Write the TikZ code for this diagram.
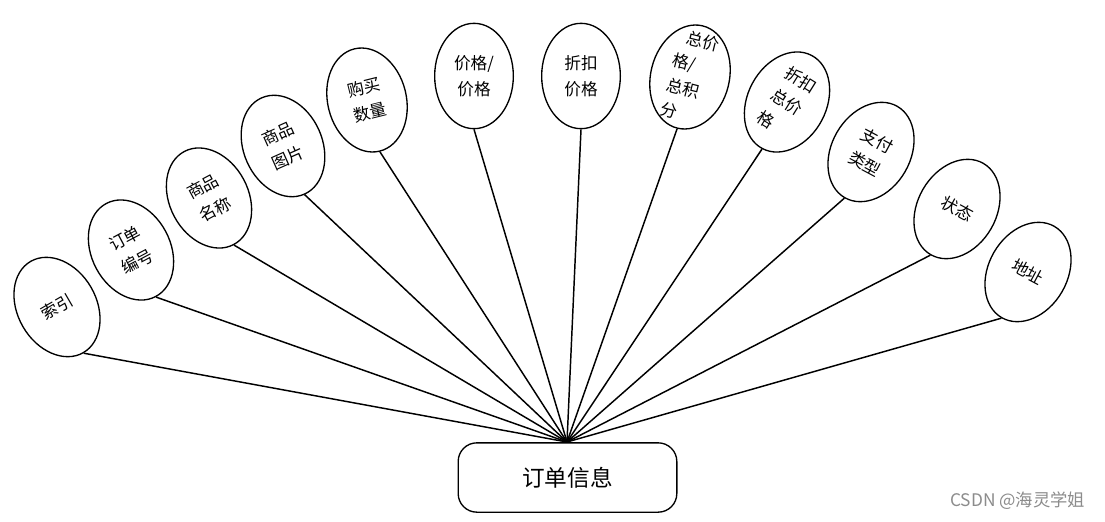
\documentclass[tikz,border=0pt]{standalone}
\usepackage{fontspec}
\setmainfont{Noto Sans CJK SC}
\usetikzlibrary{shapes.geometric}
\begin{document}
\begin{tikzpicture}[x=0.75pt,y=-0.75pt,
  attr/.style={draw, ellipse, line width=1pt, minimum width=59pt, minimum height=79pt, inner sep=0pt},
  attrtext/.style={font=\fontsize{12.5}{19.5}\selectfont, align=center, inner sep=0pt},
  link/.style={line width=1.1pt},
  entity/.style={draw, rounded corners=14pt, line width=1pt, minimum width=164pt, minimum height=52pt, inner sep=0pt, font=\fontsize{17}{20}\selectfont},
  mark text/.style={text=black!45, font=\fontsize{13}{15}\selectfont}]
\path[use as bounding box, fill=white] (0,0) rectangle (1105,521);
\node[entity] (main) at (567.5,477.5) {订单信息};
\coordinate (hub) at (567,442);
% attributes
\node[attr, rotate=30] (e1) at (57,307) {};
\node[attrtext, rotate=30] (t1) at (e1.center) {索引};
\node[attr, rotate=28] (e2) at (131,250) {};
\node[attrtext, rotate=28] (t2) at (e2.center) {订单\\编号};
\node[attr, rotate=28] (e3) at (209,198) {};
\node[attrtext, rotate=28] (t3) at (e3.center) {商品\\名称};
\node[attr, rotate=24] (e4) at (283,146) {};
\node[attrtext, rotate=24] (t4) at (e4.center) {商品\\图片};
\node[attr, rotate=14] (e5) at (367,100) {};
\node[attrtext, rotate=14] (t5) at (e5.center) {购买\\数量};
\node[attr] (e6) at (474,76) {};
\node[attrtext] (t6) at (e6.center) {价格/\\价格};
\node[attr] (e7) at (581,76) {};
\node[attrtext] (t7) at (e7.center) {折扣\\价格};
\node[attr, rotate=-14] (e8) at (690,77) {};
\node[attrtext, rotate=-14, align=left, font=\fontsize{12.5}{19}\selectfont] (t8) at (e8.center) {\hspace*{0.5em}总价\\格/\\总积\\分};
\node[attr, rotate=-28] (e9) at (787,102) {};
\node[attrtext, rotate=-32, align=left] (t9) at (e9.center) {折扣\\总价\\格};
\node[attr, rotate=-30] (e10) at (871,152) {};
\node[attrtext, rotate=-28] (t10) at (e10.center) {支付\\类型};
\node[attr, rotate=-30] (e11) at (957,209) {};
\node[attrtext, rotate=-28] (t11) at (e11.center) {状态};
\node[attr, rotate=-30] (e12) at (1028,272) {};
\node[attrtext, rotate=-28] (t12) at (e12.center) {地址};
% links
\foreach \i in {1,...,12} \draw[link] (hub) -- (e\i.south);
% watermark
\node[mark text, anchor=east] (wm) at (1090,501) {CSDN @海灵学姐};
\end{tikzpicture}
\end{document}
